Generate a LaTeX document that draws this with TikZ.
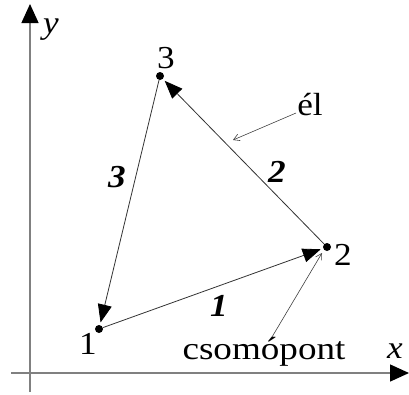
\documentclass[tikz,border=0pt]{standalone}
\usepackage{fontspec}
\setmainfont{Liberation Serif}
\usetikzlibrary{arrows.meta}
\newcommand{\hsc}[2][1.1]{\scalebox{#1}[1]{#2}}
\tikzset{
  axis/.style={draw=black!50, line width=1.4pt},
  axtip/.style={-{Triangle[length=19pt,width=17pt,fill=black,color=black]}},
  edge/.style={draw=black!80, line width=0.8pt, -{Triangle[length=18pt,width=14pt,fill=black,color=black]}, shorten >=2.5pt},
  note/.style={draw=black!75, line width=0.6pt, -{Straight Barb[length=6pt,width=7pt]}},
  dot/.style={circle, fill=black, minimum size=8pt, inner sep=0pt},
  lbl/.style={anchor=base, inner sep=0pt, font=\fontsize{32}{34}\selectfont},
  ilbl/.style={lbl, font=\fontsize{32}{34}\selectfont\itshape},
  elbl/.style={lbl, font=\fontsize{32}{34}\selectfont\bfseries\itshape},
}
\begin{document}
\begin{tikzpicture}[x=1pt,y=-1pt]
\useasboundingbox (0,0) rectangle (409,394);
% axes
\coordinate (xs) at (11,373);
\coordinate (xe) at (409,373);
\coordinate (ys) at (30,392);
\coordinate (ye) at (30,4);
\draw[axis, axtip] (xs) -- (xe);
\draw[axis, axtip] (ys) -- (ye);
\node[ilbl] (xl) at (395,358) {\hsc{x}};
\node[ilbl] (yl) at (51,33) {\hsc{y}};
% nodes
\node[dot] (n1) at (99,329) {};
\node[dot] (n2) at (327,247) {};
\node[dot] (n3) at (160,76) {};
\node[lbl] (l1) at (88,354) {\hsc{1}};
\node[lbl] (l2) at (343,265) {\hsc{2}};
\node[lbl] (l3) at (166,68) {\hsc{3}};
% edges
\draw[edge] (n1) -- (n2);
\draw[edge] (n2) -- (n3);
\draw[edge] (n3) -- (n1);
\node[elbl] (e1) at (219,316) {\hsc{1}};
\node[elbl] (e2) at (277,182) {\hsc{2}};
\node[elbl] (e3) at (117,187) {\hsc{3}};
% annotations
\node[lbl] (el) at (310,115) {\hsc{él}};
\node[lbl] (cs) at (264,359) {\hsc[1.16]{csomópont}};
\coordinate (elt) at (233,140);
\coordinate (elf) at (296,113);
\coordinate (cst) at (322,253);
\coordinate (csf) at (272,337);
\draw[note] (elf) -- (elt);
\draw[note] (csf) -- (cst);
\end{tikzpicture}
\end{document}
